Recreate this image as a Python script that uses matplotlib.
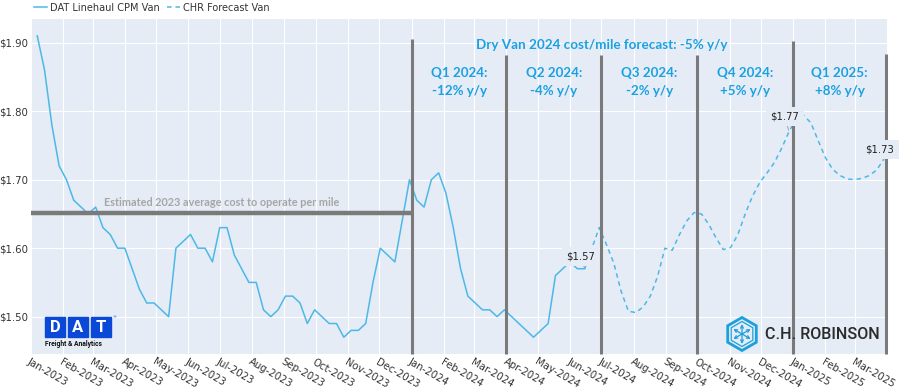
import matplotlib
matplotlib.use('Agg')
import matplotlib.pyplot as plt
import matplotlib.dates as mdates
from matplotlib.patches import RegularPolygon, Rectangle
import pandas as pd
import math

# Weekly DAT linehaul cost per mile (van), first week ends 2023-01-07
dat_values = [1.91, 1.86, 1.78, 1.72, 1.70, 1.67, 1.66, 1.65, 1.66, 1.63,
              1.62, 1.60, 1.60, 1.57, 1.54, 1.52, 1.52, 1.51, 1.50, 1.60,
              1.61, 1.62, 1.60, 1.60, 1.58, 1.63, 1.63, 1.59, 1.57, 1.55,
              1.55, 1.51, 1.50, 1.51, 1.53, 1.53, 1.52, 1.49, 1.51, 1.50,
              1.49, 1.49, 1.47, 1.48, 1.48, 1.49, 1.55, 1.60, 1.59, 1.58,
              1.64, 1.70, 1.67, 1.66, 1.70, 1.71, 1.68, 1.63, 1.57, 1.53,
              1.52, 1.51, 1.51, 1.50, 1.51, 1.50, 1.49, 1.48, 1.47, 1.48,
              1.49, 1.56, 1.57, 1.58, 1.57, 1.57]

# C.H. Robinson forecast, starts on the last DAT week
chr_values = [1.57, 1.60, 1.63, 1.605, 1.578, 1.537, 1.508, 1.506, 1.514, 1.530,
              1.559, 1.600, 1.597, 1.620, 1.640, 1.652, 1.650, 1.635, 1.615, 1.598,
              1.601, 1.620, 1.650, 1.676, 1.696, 1.710, 1.725, 1.746, 1.770, 1.790,
              1.794, 1.783, 1.757, 1.732, 1.715, 1.706, 1.701, 1.700, 1.702, 1.706,
              1.714, 1.73]

dat_dates = pd.date_range('2023-01-07', periods=len(dat_values), freq='7D')
chr_dates = pd.date_range(dat_dates[-1], periods=len(chr_values), freq='7D')

month_ticks = pd.date_range('2023-01-01', '2025-03-01', freq='MS')
y_ticks = [1.50, 1.60, 1.70, 1.80, 1.90]

quarter_lines = pd.to_datetime(['2024-01-01', '2024-04-01', '2024-07-01',
                                '2024-10-01', '2025-01-01', '2025-03-31'])
quarter_tops = [1.905, 1.882, 1.882, 1.882, 1.902, 1.883]
quarter_labels = ['Q1 2024:\n-12% y/y', 'Q2 2024:\n-4% y/y', 'Q3 2024:\n-2% y/y',
                  'Q4 2024:\n+5% y/y', 'Q1 2025:\n+8% y/y']
forecast_title = 'Dry Van 2024 cost/mile forecast: -5% y/y'

cost_to_operate = 1.652
cost_label = 'Estimated 2023 average cost to operate per mile'

bg = '#E5ECF6'
line_blue = '#4DB8E8'
text_blue = '#1BA1E2'
dark_gray = '#7A7A7A'

fig = plt.figure(figsize=(9, 3.91), dpi=100)
ax = fig.add_axes([31/900, 1 - 354/391, 856/900, 335/391])
ax.set_facecolor(bg)
for s in ax.spines.values():
    s.set_visible(False)

ax.set_xlim(pd.Timestamp('2023-01-01'), pd.Timestamp('2025-04-01'))
ax.set_ylim(1.4455, 1.9346)
ax.set_xticks(month_ticks)
ax.xaxis.set_major_formatter(mdates.DateFormatter('%b-%Y'))
ax.set_yticks(y_ticks)
ax.set_yticklabels(['$%.2f' % v for v in y_ticks])
ax.tick_params(length=0, labelsize=7.3, colors='#333333', pad=2)
for lbl in ax.get_xticklabels():
    lbl.set_rotation(-30)
    lbl.set_ha('left')
    lbl.set_va('top')
    lbl.set_rotation_mode('anchor')
ax.grid(True, color='white', lw=0.8)
ax.set_axisbelow(True)

# data lines
ax.plot(dat_dates, dat_values, color=line_blue, lw=1.1, zorder=2,
        label='DAT Linehaul CPM Van')
ax.plot(chr_dates, chr_values, color=line_blue, lw=1.1, zorder=2,
        linestyle=(0, (3, 2.5)), label='CHR Forecast Van')

# cost to operate line
ax.plot([pd.Timestamp('2023-01-01'), quarter_lines[0]], [cost_to_operate] * 2,
        color=dark_gray, lw=3.2, zorder=3, solid_capstyle='butt')
ax.text(pd.Timestamp('2023-03-12'), cost_to_operate + 0.014, cost_label,
        color='#A6A6A6', fontsize=7.8, fontweight='bold', family='Lato',
        ha='left', va='center', zorder=4)

# quarter separators
ax.vlines(quarter_lines, 1.4455, quarter_tops, color=dark_gray, lw=2.2,
          zorder=3, clip_on=False)

ax.text(pd.Timestamp('2024-07-01'), 1.897, forecast_title, color=text_blue,
        fontsize=9.7, fontweight='bold', family='Lato', ha='center', va='center')
for i, q in enumerate(quarter_labels):
    mid = quarter_lines[i] + (quarter_lines[i + 1] - quarter_lines[i]) / 2
    ax.text(mid, 1.8425, q, color=text_blue, fontsize=9.6, fontweight='bold',
            family='Lato', ha='center', va='center', linespacing=1.55)

# value callouts
callouts = [(dat_dates[-1], dat_values[-1], (-3, 9)),
            (chr_dates[28], chr_values[28], (-3, 11)),
            (chr_dates[-1], chr_values[-1], (-3, 7))]
for d, v, off in callouts:
    ax.annotate('$%.2f' % v, xy=(d, v), xytext=off, textcoords='offset points',
                ha='center', va='center', fontsize=7.2, color='#222222', zorder=6,
                bbox=dict(boxstyle='square,pad=0.45', fc=bg, ec='none'),
                arrowprops=dict(arrowstyle='-', color='#999999', lw=0.6,
                                shrinkA=0, shrinkB=1))

fig.legend(loc='upper left', bbox_to_anchor=(0.028, 1.015), ncol=2, frameon=False,
           fontsize=7, handlelength=1.3, handletextpad=0.3, columnspacing=0.8,
           labelcolor='#333333')

# logos, drawn in pixel coordinates on an overlay
lg = fig.add_axes([0, 0, 1, 1], zorder=5)
lg.set_xlim(0, 900)
lg.set_ylim(391, 0)
lg.axis('off')
lg.patch.set_alpha(0)

for i, letter in enumerate('DAT'):
    x0 = 45 + i * 23
    lg.add_patch(Rectangle((x0, 317), 20, 20, color='#0A48D8'))
    lg.text(x0 + 10, 327.5, letter, color='white', fontsize=12, fontweight='bold',
            ha='center', va='center', family='Roboto')
lg.text(112, 317, '®', color='#0A48D8', fontsize=3, ha='left', va='center')
lg.text(45, 344, 'Freight & Analytics', color='#111111', fontsize=4.9,
        fontweight='bold', ha='left', va='center', family='Roboto')

hx, hy = 742, 334
ch_blue = '#1BA0DC'
lg.add_patch(RegularPolygon((hx, hy), 6, radius=16.5, fill=False, ec=ch_blue, lw=2))
lg.add_patch(RegularPolygon((hx, hy), 6, radius=12.5, fill=False, ec=ch_blue, lw=0.9))
for ang in [90, 270, 30, 150, 210, 330]:
    ex = hx + 10 * math.cos(math.radians(ang))
    ey = hy + 10 * math.sin(math.radians(ang))
    lg.annotate('', xy=(ex, ey), xytext=(hx, hy),
                arrowprops=dict(arrowstyle='->', color=ch_blue, lw=0.9,
                                mutation_scale=5, shrinkA=0, shrinkB=0))
lg.text(765, 334.5, 'C.H. ROBINSON', color='#2B2B2B', fontsize=11.6,
        fontweight='medium', ha='left', va='center', family='Roboto')

fig.savefig('out.png', dpi=100)
